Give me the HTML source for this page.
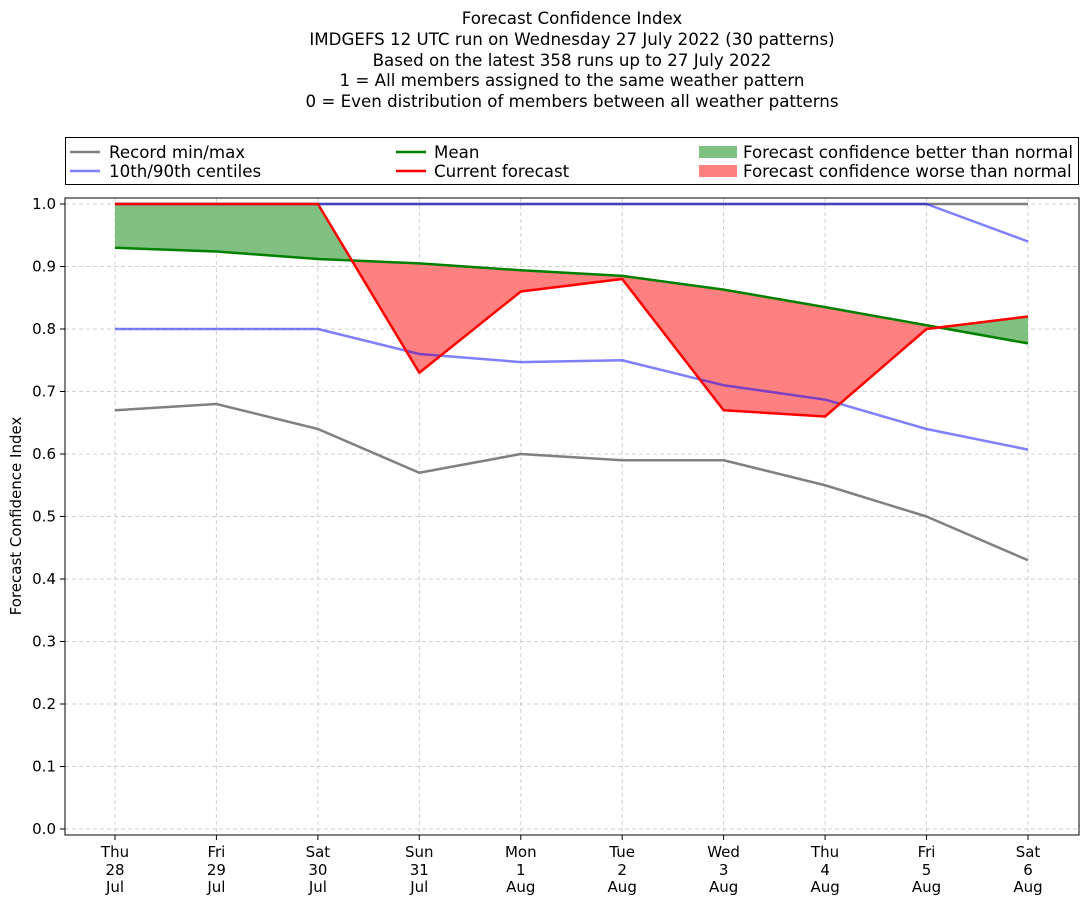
<!DOCTYPE html>
<html><head><meta charset="utf-8"><style>body{margin:0;background:#fff}svg{display:block}text{font-family:"DejaVu Sans","Liberation Sans",sans-serif;fill:#000}</style></head>
<body>
<svg width="1092" height="924" xmlns="http://www.w3.org/2000/svg">
<g font-size="16.67" text-anchor="middle">
<text x="572" y="24">Forecast Confidence Index</text>
<text x="572" y="45">IMDGEFS 12 UTC run on Wednesday 27 July 2022 (30 patterns)</text>
<text x="572" y="66">Based on the latest 358 runs up to 27 July 2022</text>
<text x="572" y="86">1 = All members assigned to the same weather pattern</text>
<text x="572" y="107">0 = Even distribution of members between all weather patterns</text>
</g>
<g stroke="#d0d0d0" stroke-dasharray="4,3" stroke-width="1">
<line x1="65" x2="1079" y1="204" y2="204"/><line x1="65" x2="1079" y1="266.5" y2="266.5"/><line x1="65" x2="1079" y1="329" y2="329"/><line x1="65" x2="1079" y1="391.5" y2="391.5"/><line x1="65" x2="1079" y1="454" y2="454"/><line x1="65" x2="1079" y1="516.5" y2="516.5"/><line x1="65" x2="1079" y1="579" y2="579"/><line x1="65" x2="1079" y1="641.5" y2="641.5"/><line x1="65" x2="1079" y1="704" y2="704"/><line x1="65" x2="1079" y1="766.5" y2="766.5"/><line x1="65" x2="1079" y1="829" y2="829"/>
<line y1="198" y2="835" x1="115" x2="115"/><line y1="198" y2="835" x1="216.4" x2="216.4"/><line y1="198" y2="835" x1="317.9" x2="317.9"/><line y1="198" y2="835" x1="419.3" x2="419.3"/><line y1="198" y2="835" x1="520.8" x2="520.8"/><line y1="198" y2="835" x1="622.2" x2="622.2"/><line y1="198" y2="835" x1="723.6" x2="723.6"/><line y1="198" y2="835" x1="825.1" x2="825.1"/><line y1="198" y2="835" x1="926.5" x2="926.5"/><line y1="198" y2="835" x1="1028" x2="1028"/>
</g>
<polygon fill="#80c080" points="115,204 216.4,204 317.9,204 351.9,260.4 317.9,259 216.4,251.5 115,247.75"/>
<polygon fill="#ff8080" points="351.9,260.4 419.3,372.75 520.8,291.5 622.2,279 723.6,410.25 825.1,416.5 926.5,329 938.9,327.4 926.5,325.25 825.1,307.1 723.6,289.6 622.2,275.9 520.8,270.25 419.3,263.4"/>
<polygon fill="#80c080" points="938.9,327.4 1028,316.5 1028,343.4"/>
<g fill="none" stroke-width="2.5" stroke-linejoin="round">
<polyline stroke="#808080" points="115,204 1028,204"/>
<polyline stroke="#808080" points="115,410.25 216.4,404 317.9,429 419.3,472.75 520.8,454 622.2,460.25 723.6,460.25 825.1,485.25 926.5,516.5 1028,560.25"/>
<polyline stroke="#0000ff" stroke-opacity="0.5" points="115,204 926.5,204 1028,241.5"/>
<polyline stroke="#0000ff" stroke-opacity="0.5" points="115,329 216.4,329 317.9,329 419.3,354 520.8,362.1 622.2,360.25 723.6,385.25 825.1,399.6 926.5,429 1028,449.6"/>
<polyline stroke="#008000" points="115,247.75 216.4,251.5 317.9,259 419.3,263.4 520.8,270.25 622.2,275.9 723.6,289.6 825.1,307.1 926.5,325.25 1028,343.4"/>
<polyline stroke="#ff0000" points="115,204 216.4,204 317.9,204 419.3,372.75 520.8,291.5 622.2,279 723.6,410.25 825.1,416.5 926.5,329 1028,316.5"/>
</g>
<rect x="65" y="198" width="1014" height="637" fill="none" stroke="#000" stroke-width="1"/>
<g stroke="#000"><line x1="60" x2="65" y1="204" y2="204"/><line x1="60" x2="65" y1="266.5" y2="266.5"/><line x1="60" x2="65" y1="329" y2="329"/><line x1="60" x2="65" y1="391.5" y2="391.5"/><line x1="60" x2="65" y1="454" y2="454"/><line x1="60" x2="65" y1="516.5" y2="516.5"/><line x1="60" x2="65" y1="579" y2="579"/><line x1="60" x2="65" y1="641.5" y2="641.5"/><line x1="60" x2="65" y1="704" y2="704"/><line x1="60" x2="65" y1="766.5" y2="766.5"/><line x1="60" x2="65" y1="829" y2="829"/>
<line y1="835" y2="840" x1="115" x2="115"/><line y1="835" y2="840" x1="216.4" x2="216.4"/><line y1="835" y2="840" x1="317.9" x2="317.9"/><line y1="835" y2="840" x1="419.3" x2="419.3"/><line y1="835" y2="840" x1="520.8" x2="520.8"/><line y1="835" y2="840" x1="622.2" x2="622.2"/><line y1="835" y2="840" x1="723.6" x2="723.6"/><line y1="835" y2="840" x1="825.1" x2="825.1"/><line y1="835" y2="840" x1="926.5" x2="926.5"/><line y1="835" y2="840" x1="1028" x2="1028"/></g>
<g font-size="15" text-anchor="end">
<text x="56" y="209">1.0</text><text x="56" y="271.5">0.9</text><text x="56" y="334">0.8</text><text x="56" y="396.5">0.7</text><text x="56" y="459">0.6</text><text x="56" y="521.5">0.5</text><text x="56" y="584">0.4</text><text x="56" y="646.5">0.3</text><text x="56" y="709">0.2</text><text x="56" y="771.5">0.1</text><text x="56" y="834">0.0</text>
</g>
<text font-size="15" text-anchor="middle" transform="translate(21,516) rotate(-90)">Forecast Confidence Index</text>
<g font-size="15" text-anchor="middle">
<text x="115" y="857">Thu</text><text x="115" y="875">28</text><text x="115" y="892">Jul</text>
<text x="216.4" y="857">Fri</text><text x="216.4" y="875">29</text><text x="216.4" y="892">Jul</text>
<text x="317.9" y="857">Sat</text><text x="317.9" y="875">30</text><text x="317.9" y="892">Jul</text>
<text x="419.3" y="857">Sun</text><text x="419.3" y="875">31</text><text x="419.3" y="892">Jul</text>
<text x="520.8" y="857">Mon</text><text x="520.8" y="875">1</text><text x="520.8" y="892">Aug</text>
<text x="622.2" y="857">Tue</text><text x="622.2" y="875">2</text><text x="622.2" y="892">Aug</text>
<text x="723.6" y="857">Wed</text><text x="723.6" y="875">3</text><text x="723.6" y="892">Aug</text>
<text x="825.1" y="857">Thu</text><text x="825.1" y="875">4</text><text x="825.1" y="892">Aug</text>
<text x="926.5" y="857">Fri</text><text x="926.5" y="875">5</text><text x="926.5" y="892">Aug</text>
<text x="1028" y="857">Sat</text><text x="1028" y="875">6</text><text x="1028" y="892">Aug</text>
</g>
<rect x="65.5" y="137.5" width="1013" height="47" fill="#fff" stroke="#000"/>
<g stroke-width="2.5">
<line x1="70" x2="100" y1="152" y2="152" stroke="#808080"/>
<line x1="70" x2="100" y1="171" y2="171" stroke="#8080ff"/>
<line x1="396" x2="426" y1="152" y2="152" stroke="#008000"/>
<line x1="396" x2="426" y1="171" y2="171" stroke="#ff0000"/>
</g>
<rect x="699" y="146" width="38" height="12" fill="#80c080"/>
<rect x="699" y="165" width="38" height="12" fill="#ff8080"/>
<g font-size="16.67">
<text x="109" y="158">Record min/max</text>
<text x="109" y="177">10th/90th centiles</text>
<text x="434" y="158">Mean</text>
<text x="434" y="177">Current forecast</text>
<text x="743" y="158">Forecast confidence better than normal</text>
<text x="743" y="177">Forecast confidence worse than normal</text>
</g>
</svg>
</body></html>
